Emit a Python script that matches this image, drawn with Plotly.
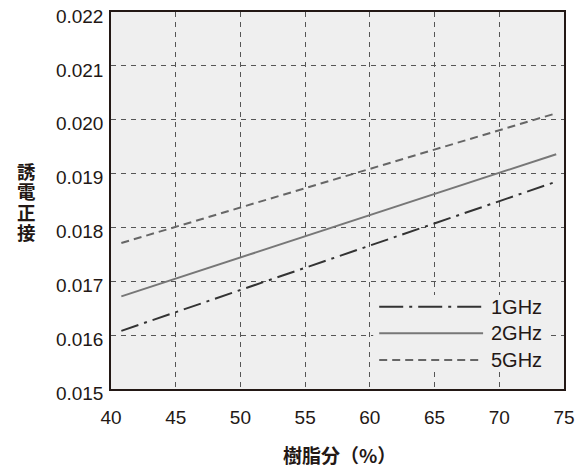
import plotly.graph_objects as go

# data
resin_pct = [40.8, 74.4]
tan_1ghz = [0.01608, 0.01885]
tan_2ghz = [0.01672, 0.01936]
tan_5ghz = [0.01771, 0.02012]
series_names = ["1GHz", "2GHz", "5GHz"]
x_ticks = [40, 45, 50, 55, 60, 65, 70, 75]
y_ticks = [0.015, 0.016, 0.017, 0.018, 0.019, 0.020, 0.021, 0.022]
y_tick_text = ["0.015", "0.016", "0.017", "0.018", "0.019", "0.020", "0.021", "0.022"]
x_title = "樹脂分（%）"
y_title_chars = ["誘", "電", "正", "接"]

TXT = "#231815"
FONT = "Liberation Sans, Arial, sans-serif"
JP = "Noto Sans CJK JP, sans-serif"

styles = [
    dict(color="#333333", width=2, dash="18px,6px,3px,6px"),
    dict(color="#777777", width=2, dash="solid"),
    dict(color="#666666", width=2, dash="8px,5px"),
]
legend_dash = ["24px,6px,3px,6px", "solid", "8px,5px"]
series = [tan_1ghz, tan_2ghz, tan_5ghz]

fig = go.Figure()
for name, ys, st in zip(series_names, series, styles):
    fig.add_trace(go.Scatter(x=resin_pct, y=ys, mode="lines", name=name,
                             line=st, showlegend=False))

# plot geometry in screenshot px (page has 8px body offset)
OFF = 8
L, R, T, B = 110.5, 564, 12, 389
W, H = R - L, B - T
def px(x): return (x - L) / W
def py(y): return (B - y) / H

shapes = []
annotations = []
shapes.append(dict(type="rect", xref="paper", yref="paper",
                   x0=px(373), x1=px(549), y0=py(370), y1=py(295),
                   fillcolor="#efefef", line=dict(width=0), layer="above"))
rows = [306.7, 333.3, 360]
for name, st, ld, yr in zip(series_names, styles, legend_dash, rows):
    shapes.append(dict(type="line", xref="paper", yref="paper",
                       x0=px(379), x1=px(483), y0=py(yr), y1=py(yr),
                       line=dict(color=st["color"], width=2, dash=ld),
                       layer="above"))
    annotations.append(dict(text=name, xref="paper", yref="paper",
                            x=px(489), y=py(yr), xanchor="left", yanchor="middle",
                            showarrow=False, font=dict(family=FONT, size=20, color=TXT)))

for i, ch in enumerate(y_title_chars):
    annotations.append(dict(text="<b>" + ch + "</b>", xref="paper", yref="paper",
                            x=px(26), y=py(170.5 + 20.5 * i), xanchor="center",
                            yanchor="middle", showarrow=False,
                            font=dict(family=JP, size=18.5, color=TXT)))

annotations.append(dict(text="<b>" + x_title + "</b>", xref="paper", yref="paper",
                        x=px(339), y=py(454), xanchor="center", yanchor="middle",
                        showarrow=False, font=dict(family=JP, size=19, color=TXT)))

fig.update_layout(
    width=586, height=469,
    margin=dict(l=L - OFF, r=586 + OFF - R, t=T - OFF, b=469 + OFF - B),
    paper_bgcolor="white", plot_bgcolor="#efefef",
    shapes=shapes, annotations=annotations,
    font=dict(family=FONT, size=19, color=TXT),
)
common = dict(showgrid=True, gridcolor="#555555", gridwidth=1, griddash="5px,5px",
              showline=True, linecolor=TXT, linewidth=1.5, mirror=True,
              ticks="outside", tickcolor="rgba(0,0,0,0)", zeroline=False,
              automargin=False, ticklabeloverflow="allow",
              tickfont=dict(family=FONT, size=19, color=TXT))
fig.update_xaxes(range=[40, 75], tickvals=x_ticks, ticktext=[str(v) for v in x_ticks],
                 ticklen=10, **common)
fig.update_yaxes(range=[0.015, 0.022], tickvals=y_ticks, ticktext=y_tick_text,
                 ticklen=2, ticklabelshift=4, **common)

fig.write_html("out.html")
